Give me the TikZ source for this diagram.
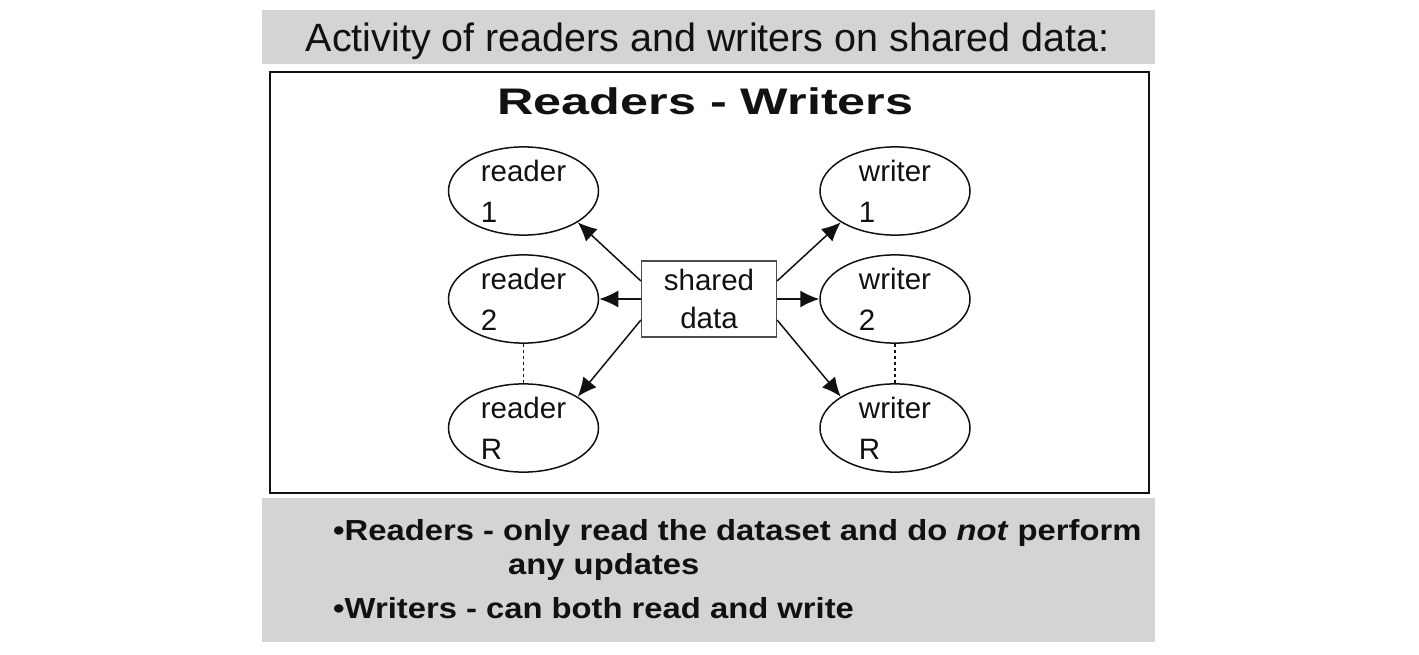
\documentclass[tikz,border=0pt]{standalone}
\usepackage{fontspec}
\setmainfont{Liberation Sans}
\newfontfamily\titlefont{Liberation Sans}
\newfontfamily\headfont[FakeStretch=1.36]{Liberation Sans}
\newfontfamily\notefont[FakeStretch=1.13]{Liberation Sans}
\usetikzlibrary{shapes.geometric,arrows.meta}
\definecolor{bandgray}{RGB}{212,212,212}
\definecolor{ink}{RGB}{17,17,17}
\begin{document}
\begin{tikzpicture}[x=1pt,y=-1pt,
  band/.style={fill=bandgray,draw=none,inner sep=0pt,anchor=north west},
  frame/.style={draw=ink,line width=2pt,inner sep=0pt,anchor=north west},
  txt/.style={inner sep=0pt,text=ink},
  actor/.style={ellipse,draw=ink,line width=1.5pt,minimum width=150pt,minimum height=88pt,
    inner sep=0pt,align=left,text=ink,font=\fontsize{29.5}{41}\selectfont},
  databox/.style={rectangle,draw=black!70,line width=1.2pt,minimum width=135pt,minimum height=76pt,
    inner sep=0pt,align=center,text=ink,font=\fontsize{29.5}{38}\selectfont},
  flow/.style={-{Latex[length=19pt,width=17pt]},line width=1.5pt,draw=ink},
  dots/.style={draw=ink,line width=1.4pt,dash pattern=on 3pt off 3pt}
]
\useasboundingbox (0,0) rectangle (1419,655);
% bands and frame
\node[band,minimum width=893pt,minimum height=54pt] (topband) at (262,10) {};
\node[band,minimum width=893pt,minimum height=144pt] (botband) at (262,498) {};
\node[frame,minimum width=879pt,minimum height=421pt] (mainframe) at (269,71) {};
% texts
\node[txt,anchor=base,font=\titlefont\fontsize{39.5}{47}\selectfont] (title) at (707.5,52)
  {Activity of readers and writers on shared data:};
\node[txt,anchor=base,font=\headfont\bfseries\fontsize{37}{44}\selectfont] (heading) at (705.5,115)
  {Readers - Writers};
% nodes
\node[actor] (r1) at (523.5,191) {reader\\1};
\node[actor] (r2) at (523.5,299) {reader\\2};
\node[actor] (rR) at (523.5,428) {reader\\R};
\node[actor] (w1) at (895,191) {writer\\1};
\node[actor] (w2) at (895,299) {writer\\2};
\node[actor] (wR) at (895,428) {writer\\R};
\node[databox] (shared) at (709,299) {shared\\data};
% connectors
\draw[flow] ([yshift=18pt]shared.west) -- (r1.-30);
\draw[flow] (shared.west) -- (r2.east);
\draw[flow] ([yshift=-21pt]shared.west) -- (rR.30);
\draw[flow] ([yshift=18pt]shared.east) -- (w1.210);
\draw[flow] (shared.east) -- (w2.west);
\draw[flow] ([yshift=-21pt]shared.east) -- (wR.150);
\draw[dots] (r2.south) -- (rR.north);
\draw[dots] (w2.south) -- (wR.north);
% notes
\node[txt,anchor=base west,font=\notefont\bfseries\fontsize{29}{35}\selectfont] (note1) at (333,540)
  {•Readers - only read the dataset and do \textit{not} perform};
\node[txt,anchor=base west,font=\notefont\bfseries\fontsize{29}{35}\selectfont] (note2) at (508,574)
  {any updates};
\node[txt,anchor=base west,font=\notefont\bfseries\fontsize{29}{35}\selectfont] (note3) at (333,618)
  {•Writers - can both read and write};
\end{tikzpicture}
\end{document}
